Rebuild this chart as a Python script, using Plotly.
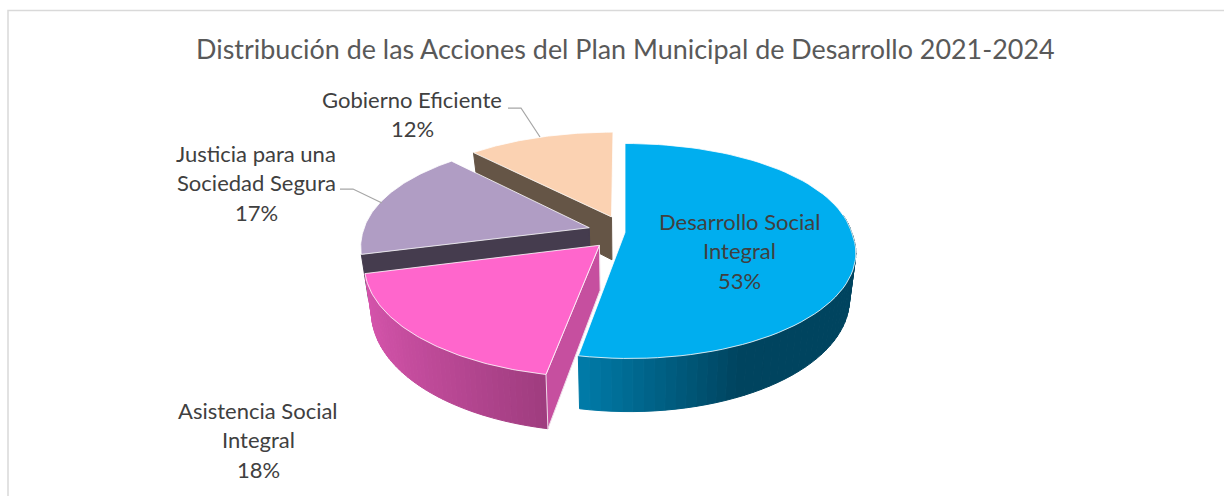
import math
import plotly.graph_objects as go

# ---- data ----
categories = ["Desarrollo Social Integral", "Asistencia Social Integral",
              "Justicia para una Sociedad Segura", "Gobierno Eficiente"]
values = [53, 18, 17, 12]
pulls = [0, 0.165, 0.165, 0.165]
title_text = "Distribución de las Acciones del Plan Municipal de Desarrollo 2021-2024"
label_lines = [["Desarrollo Social", "Integral", "53%"],
               ["Asistencia Social", "Integral", "18%"],
               ["Justicia para una", "Sociedad Segura", "17%"],
               ["Gobierno Eficiente", "12%"]]
top_colors = ["#00aeef", "#ff66cc", "#b09dc4", "#fbd2b2"]
cut_colors = [None, "#c64f9f", "#453c4e", "#655546"]
wall_left = [(0, 124, 170), (214, 84, 172), (70, 60, 80), (101, 85, 70)]
wall_right = [(0, 68, 95), (158, 60, 126), (70, 60, 80), (101, 85, 70)]
label_pos = [(739, 221), (258, 410), (256, 153), (412, 99)]

# ---- 3-D projection of the pie ----
CX, CY, RX, RY, P, DEPTH = 625, 232.5, 226.6, 104.3, 0.172, 44
FONT = "Lato"
TXT = "#404040"


def project(x, y, z=0):
    w = 1 - P * y
    sx = CX + RX * x / w + 4.5 * max(0, y) + 7.5 * x * max(0, -y) - 6.5 * x * z
    return sx, CY + (RY * y + DEPTH * z) / w


def rim(t0, t1, off, z=0, n=80):
    pts = []
    for i in range(n + 1):
        t = t0 + (t1 - t0) * i / n
        pts.append(project(off[0] + math.sin(t), off[1] - math.cos(t), z))
    return pts


def poly(pts, fill, line=None, width=1):
    return go.Scatter(x=[p[0] for p in pts] + [pts[0][0]],
                      y=[p[1] for p in pts] + [pts[0][1]],
                      mode="lines", fill="toself", fillcolor=fill,
                      line=dict(color=line or fill, width=width),
                      hoverinfo="skip", showlegend=False)


fig = go.Figure()
total = sum(values)
angles = [0]
for v in values:
    angles.append(angles[-1] + 2 * math.pi * v / total)

slices = []
for i in range(len(values)):
    t0, t1 = angles[i], angles[i + 1]
    mid = (t0 + t1) / 2
    off = (pulls[i] * math.sin(mid), -pulls[i] * math.cos(mid))
    slices.append((i, t0, t1, off))

# far slices first
for i, t0, t1, off in [slices[3], slices[2], slices[1], slices[0]]:
    if i in (2, 3):  # face along the starting radius, seen from the front
        a = project(off[0] + math.sin(t0), off[1] - math.cos(t0))
        b = project(off[0], off[1])
        fig.add_trace(poly([a, b, project(off[0], off[1], 1),
                            project(off[0] + math.sin(t0), off[1] - math.cos(t0), 1)],
                           cut_colors[i]))
    # outer wall of the two front slices, shaded left to right
    if i in (0, 1):
        lo, hi = max(t0, math.pi / 2 - 0.17), min(t1, 3 * math.pi / 2 + 0.17)
        n = 48
        for k in range(n):
            a0 = lo + (hi - lo) * k / n
            a1 = lo + (hi - lo) * (k + 1) / n
            xmid = math.sin((a0 + a1) / 2)
            f = (xmid + 0.19) / 0.6 if i == 0 else (xmid + 0.98) / 0.8
            f = min(1, max(0, f))
            col = "rgb(%d,%d,%d)" % tuple(
                round(wall_left[i][c] + (wall_right[i][c] - wall_left[i][c]) * f) for c in range(3))
            pts = rim(a0, a1, off, 0, 3) + rim(a1, a0, off, 1, 3)
            fig.add_trace(poly(pts, col))
    if i == 1:  # pink face along the starting radius
        a = project(off[0] + math.sin(t0), off[1] - math.cos(t0))
        fig.add_trace(poly([project(off[0], off[1]), a,
                            project(off[0] + math.sin(t0), off[1] - math.cos(t0), 1),
                            project(off[0], off[1], 1)], cut_colors[i], "#f0dcea"))
    # top face
    pts = [project(off[0], off[1])] + rim(t0, t1, off)
    fig.add_trace(poly(pts, top_colors[i], "rgba(255,255,255,0.8)", 1))

# leader lines
leader_x = [[508, 521, 540], [340, 353, 382]]
leader_y = [[108, 108, 137], [189, 189, 203]]
for lx, ly in zip(leader_x, leader_y):
    fig.add_trace(go.Scatter(x=lx, y=ly, mode="lines", line=dict(color="#a6a6a6", width=1.25),
                             hoverinfo="skip", showlegend=False))

annotations = [dict(x=625, y=48.5, text=title_text, showarrow=False, xanchor="center", yanchor="middle",
                    font=dict(family=FONT, size=26.9, color="#595959"))]
for lines, (lx, ly) in zip(label_lines, label_pos):
    for j, line in enumerate(lines):
        annotations.append(dict(x=lx, y=ly + j * 29.5, text=line, showarrow=False,
                                xanchor="center", yanchor="middle",
                                font=dict(family=FONT, size=22, color=TXT)))

fig.update_layout(
    width=1224, height=496, margin=dict(l=0, r=0, t=0, b=0),
    paper_bgcolor="white", plot_bgcolor="white", showlegend=False,
    xaxis=dict(range=[0, 1224], visible=False, fixedrange=True),
    yaxis=dict(range=[496, 0], visible=False, fixedrange=True),
    annotations=annotations,
    shapes=[dict(type="path", path="M 8 496 L 8 10.5 L 1224 10.5",
                 line=dict(color="#d9d9d9", width=1.5), layer="below")],
)
fig.write_html("out.html", config={"displayModeBar": False},
               post_script="document.body.style.margin='0';document.body.style.overflow='hidden';")
